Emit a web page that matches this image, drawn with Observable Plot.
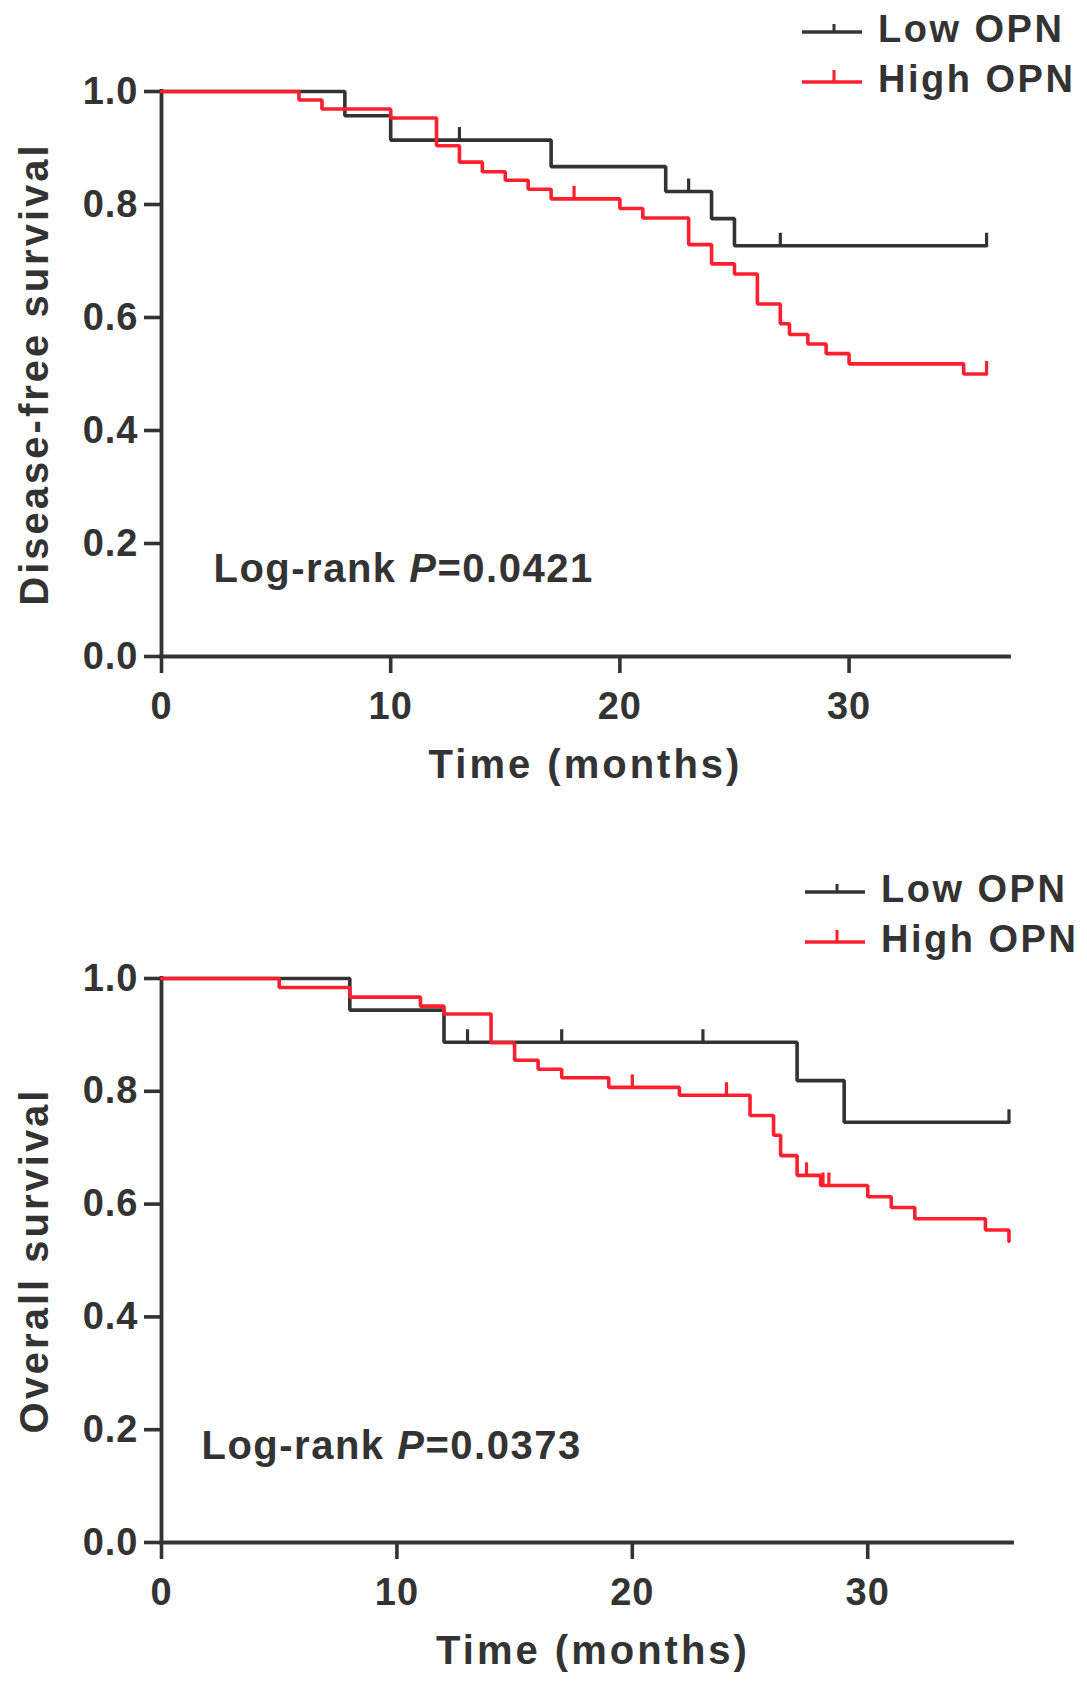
<!DOCTYPE html>
<html>
<head>
<meta charset="utf-8">
<script src="https://cdn.jsdelivr.net/npm/d3@7"></script>
<script src="https://cdn.jsdelivr.net/npm/@observablehq/plot@0.6"></script>
<style>
  body { margin: 0; background: #fff; }
  .page { position: relative; width: 1087px; height: 1690px; background: #fff; overflow: hidden; }
  .page > svg { position: absolute; left: 0; }
</style>
</head>
<body>
<div class="page" id="page"></div>
<script>
  // groups + colours
  const groups = ["Low OPN", "High OPN"]
  const groupColors = ["#333333", "#ff1f2e"]
  const xTicks = [0, 10, 20, 30]
  const yTicks = [0, 0.2, 0.4, 0.6, 0.8, 1.0]
  const xTitle = "Time (months)"

  // Disease-free survival (top panel)
  const dfsLowTime = [0, 8, 10, 17, 22, 24, 25, 36]
  const dfsLowSurv = [1, 0.957, 0.914, 0.867, 0.823, 0.775, 0.727, 0.727]
  const dfsLowCensTime = [13, 23, 27, 36]
  const dfsLowCensSurv = [0.914, 0.823, 0.727, 0.727]
  const dfsHighTime = [0, 6, 7, 10, 12, 13, 14, 15, 16, 17, 20, 21, 23, 24, 25, 26, 27, 27.4, 28.2, 29, 30, 35, 36]
  const dfsHighSurv = [1, 0.985, 0.969, 0.953, 0.904, 0.875, 0.858, 0.843, 0.827, 0.810, 0.793, 0.776, 0.729, 0.695, 0.677, 0.624, 0.589, 0.570, 0.553, 0.536, 0.518, 0.500, 0.500]
  const dfsHighCensTime = [18, 36]
  const dfsHighCensSurv = [0.810, 0.500]
  const dfsP = "0.0421"

  // Overall survival (bottom panel)
  const osLowTime = [0, 8, 12, 27, 29, 36]
  const osLowSurv = [1, 0.944, 0.887, 0.819, 0.745, 0.745]
  const osLowCensTime = [13, 17, 23, 36]
  const osLowCensSurv = [0.887, 0.887, 0.887, 0.745]
  const osHighTime = [0, 5, 8, 11, 12, 14, 15, 16, 17, 19, 22, 25, 26, 26.3, 27, 28, 30, 31, 32, 35, 36]
  const osHighSurv = [1, 0.984, 0.967, 0.951, 0.937, 0.886, 0.855, 0.839, 0.824, 0.807, 0.793, 0.757, 0.722, 0.686, 0.651, 0.633, 0.613, 0.594, 0.574, 0.554, 0.534]
  const osHighCensTime = [20, 24, 27.4, 28.1, 28.35]
  const osHighCensSurv = [0.807, 0.793, 0.651, 0.633, 0.633]
  const osP = "0.0373"

  const ink = "#333"
  const font = "'Liberation Sans', Arial, sans-serif"
  const page = document.querySelector("#page")

  // small upward tick for censored cases
  const censorTick = { draw(context) { context.moveTo(0, 0); context.lineTo(0, -13) } }

  function series(group, T, S) {
    return T.map((t, i) => ({group, t, s: S[i]}))
  }

  function survivalChart(o) {
    const curves = [...series(groups[0], o.lowT, o.lowS), ...series(groups[1], o.highT, o.highS)]
    const cens = [...series(groups[0], o.lowCT, o.lowCS), ...series(groups[1], o.highCT, o.highCS)]
    const pText = `Log-rank P=${o.p}`

    const svg = Plot.plot({
      width: 1087,
      height: o.height,
      marginTop: o.marginTop,
      marginBottom: o.marginBottom,
      marginLeft: 161,
      marginRight: o.marginRight,
      style: {fontFamily: font, fontSize: "38px", fontWeight: "bold", color: ink, background: "white", letterSpacing: "1px"},
      x: {domain: [0, o.xMax], label: null},
      y: {domain: [0, 1], label: null},
      color: {domain: groups, range: groupColors},
      marks: [
        Plot.ruleY([0], {stroke: ink, strokeWidth: 3.8, strokeLinecap: "square"}),
        Plot.ruleX([0], {stroke: ink, strokeWidth: 3.8, strokeLinecap: "square"}),
        Plot.axisY({ticks: yTicks, tickFormat: d3.format(".1f"), tickSize: 17, tickPadding: 6, strokeWidth: 3.6, label: null}),
        Plot.axisX({ticks: xTicks, tickSize: 17, tickPadding: 19, strokeWidth: 3.6, label: null}),
        Plot.line(curves, {x: "t", y: "s", z: "group", stroke: "group", curve: "step-after", strokeWidth: 3.6, strokeLinejoin: "miter"}),
        Plot.dot(cens, {x: "t", y: "s", stroke: "group", fill: "none", strokeWidth: 3.2, r: 5, symbol: censorTick}),
        Plot.text([pText], {frameAnchor: "bottom-left", dx: o.pDx, dy: o.pDy, textAnchor: "start", lineAnchor: "bottom", fontSize: 40}),
        Plot.text([xTitle], {frameAnchor: "bottom", dx: o.xTitleDx, dy: 121, textAnchor: "middle", lineAnchor: "bottom", fontSize: 40}),
        Plot.text([o.yTitle], {frameAnchor: "left", dx: -126, rotate: -90, textAnchor: "middle", lineAnchor: "middle", fontSize: 40})
      ]
    })

    // wider tracking on titles, italic P in the annotation
    d3.select(svg).selectAll("text").each(function () {
      const s = this.textContent
      if (s === xTitle || s === o.yTitle) this.setAttribute("letter-spacing", "3px")
      if (s === pText) {
        const i = s.indexOf("P=")
        this.setAttribute("letter-spacing", "1.5px")
        this.textContent = ""
        const t = d3.select(this)
        t.append("tspan").text(s.slice(0, i))
        t.append("tspan").attr("font-style", "italic").text("P")
        t.append("tspan").text(s.slice(i + 1))
      }
    })

    svg.style.top = o.top + "px"
    page.appendChild(svg)
  }

  // legend box: left edge 760px, rows 50px apart
  function legend(o) {
    const svg = d3.create("svg")
      .attr("width", 327).attr("height", 130)
      .style("left", "760px").style("top", o.top + "px")
      .style("font-family", font).style("font-weight", "bold").style("font-size", "38px")
    groups.forEach((g, i) => {
      const y = o.y0 + i * 50
      svg.append("line").attr("x1", o.x1).attr("x2", o.x1 + 60).attr("y1", y).attr("y2", y)
        .attr("stroke", groupColors[i]).attr("stroke-width", 3.6)
      svg.append("line").attr("x1", o.x1 + 32).attr("x2", o.x1 + 32).attr("y1", y).attr("y2", y - o.tick[i])
        .attr("stroke", groupColors[i]).attr("stroke-width", 3)
      svg.append("text").attr("x", o.x1 + 76).attr("y", y + 10).attr("fill", ink)
        .attr("letter-spacing", "2.5px").text(g)
    })
    page.appendChild(svg.node())
  }

  survivalChart({
    top: 0, height: 800, marginTop: 91, marginBottom: 144, marginRight: 78, xMax: 37,
    lowT: dfsLowTime, lowS: dfsLowSurv, lowCT: dfsLowCensTime, lowCS: dfsLowCensSurv,
    highT: dfsHighTime, highS: dfsHighSurv, highCT: dfsHighCensTime, highCS: dfsHighCensSurv,
    p: dfsP, pDx: 52, pDy: -75, xTitleDx: 0, yTitle: "Disease-free survival"
  })
  legend({top: 0, x1: 42, y0: 32, tick: [8, 12]})

  survivalChart({
    top: 880, height: 810, marginTop: 98, marginBottom: 148, marginRight: 75, xMax: 36.15,
    lowT: osLowTime, lowS: osLowSurv, lowCT: osLowCensTime, lowCS: osLowCensSurv,
    highT: osHighTime, highS: osHighSurv, highCT: osHighCensTime, highCS: osHighCensSurv,
    p: osP, pDx: 40, pDy: -84, xTitleDx: 6, yTitle: "Overall survival"
  })
  legend({top: 840, x1: 45, y0: 52, tick: [8, 12]})
</script>
</body>
</html>
